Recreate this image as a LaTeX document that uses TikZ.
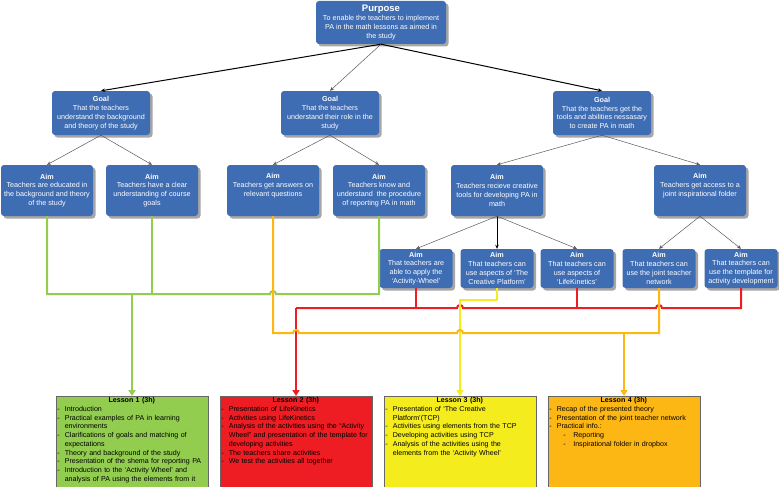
\documentclass[tikz,border=0pt]{standalone}
\usepackage{fontspec}
\setmainfont{Liberation Sans}
\usetikzlibrary{arrows.meta,shadows}

\definecolor{boxblue}{HTML}{3F6DB3}
\definecolor{lgreen}{HTML}{92CD50}
\definecolor{lred}{HTML}{EE1D23}
\definecolor{lyellow}{HTML}{F4EC1C}
\definecolor{lorange}{HTML}{FDB714}

\newcommand{\boxfont}{\fontsize{7.2}{8.8}\selectfont}
\newcommand{\lessonfont}{\fontsize{7.1}{8.7}\selectfont}
\newcommand{\lpt}[1]{\par\hangindent=7.5pt\hangafter=1\noindent\makebox[7.5pt][l]{-}#1\par}
\newcommand{\lptt}[1]{\par\hangindent=24pt\hangafter=1\noindent\hspace*{14pt}\makebox[10pt][l]{-}#1\par}

\begin{document}
\begin{tikzpicture}[x=1pt,y=-1pt,
  bluebox/.style={rectangle,rounded corners=3pt,fill=boxblue,text=white,align=center,inner sep=1pt,font=\boxfont,
    drop shadow={shadow xshift=2.5pt,shadow yshift=-2.5pt,fill=black!35,opacity=1}},
  purposebox/.style={bluebox,minimum width=130pt,minimum height=43pt},
  goalbox/.style={bluebox,minimum width=98pt,minimum height=44pt},
  aimbox/.style={bluebox,minimum width=92pt,minimum height=51pt},
  subaim/.style={bluebox,minimum width=73pt,minimum height=39pt},
  lessonbox/.style={rectangle,draw=black!60,line width=0.8pt,minimum width=152pt,minimum height=100pt,anchor=north},
  lessontext/.style={anchor=north west,inner sep=1.5pt,text width=149pt,font=\lessonfont},
  tree/.style={draw=black!65,line width=0.5pt,-{Stealth[length=4pt,width=3.5pt]}},
  treebold/.style={tree,draw=black,line width=1pt},
  bus/.style={line width=2pt},
  bustip/.style={-{Triangle[length=6pt,width=7pt]}}]
\useasboundingbox (0,0) rectangle (779,487);
\clip (0,0) rectangle (779,487);

% purpose and goals
\node[purposebox] (purpose) at (381,22.5) {{\fontsize{9.5}{11}\selectfont\bfseries Purpose}\\To enable the teachers to implement\\PA in the math lessons as aimed in\\the study};
\node[goalbox] (g1) at (101,113) {\textbf{Goal}\\That the teachers\\understand the background\\and theory of the study};
\node[goalbox] (g2) at (330,113) {\textbf{Goal}\\That the teachers\\understand their role in the\\study};
\node[goalbox] (g3) at (602,113) {\textbf{Goal}\\That the teachers get the\\tools and abilities nessasary\\to create PA in math};

% aims
\node[aimbox] (a1) at (47,190.5) {\textbf{Aim}\\Teachers are educated in\\the background and theory\\of the study};
\node[aimbox] (a2) at (152,190.5) {\textbf{Aim}\\Teachers have a clear\\understanding of course\\goals};
\node[aimbox] (a3) at (273,190.5) {\textbf{Aim}\\Teachers get answers on\\relevant questions\\\strut};
\node[aimbox] (a4) at (379,190.5) {\textbf{Aim}\\Teachers know and\\understand\ \ the procedure\\of reporting PA in math};
\node[aimbox] (a5) at (497,190.5) {\textbf{Aim}\\Teachers recieve creative\\tools for developing PA in\\math};
\node[aimbox] (a6) at (700,190.5) {\textbf{Aim}\\Teachers get access to a\\joint inspirational folder\\\strut};

\node[subaim] (la1) at (416,268.5) {\textbf{Aim}\\That teachers are\\able to apply the\\`Activity-Wheel'};
\node[subaim] (la2) at (497,268.5) {\textbf{Aim}\\That teachers can\\use aspects of `The\\Creative Platform'};
\node[subaim] (la3) at (577,268.5) {\textbf{Aim}\\That teachers can\\use aspects of\\`LifeKinetics'};
\node[subaim] (la4) at (659,268.5) {\textbf{Aim}\\That teachers can\\use the joint teacher\\network};
\node[subaim] (la5) at (741,268.5) {\textbf{Aim}\\That teachers can\\use the template for\\activity development};

% lessons
\node[lessonbox,fill=lgreen] (l1) at (132,396) {};
\node[lessonbox,fill=lred] (l2) at (296,396) {};
\node[lessonbox,fill=lyellow] (l3) at (460,396) {};
\node[lessonbox,fill=lorange] (l4) at (624,396) {};

\node[lessontext] (t1) at (l1.north west) {\raggedright{\centering\bfseries Lesson 1 (3h)\par}
\lpt{Introduction}
\lpt{Practical examples of PA in learning\newline environments}
\lpt{Clarifications of goals and matching of\newline expectations}
\lpt{Theory and background of the study}
\lpt{Presentation of the shema for reporting PA}
\lpt{Introduction to the `Activity Wheel' and\newline analysis of PA using the elements from it}};
\node[lessontext] (t2) at (l2.north west) {\raggedright{\centering\bfseries Lesson 2 (3h)\par}
\lpt{Presentation of LifeKinetics}
\lpt{Activities using LifeKinetics}
\lpt{Analysis of the activities using the ``Activity\newline Wheel'' and presentation of the template for\newline developing activities}
\lpt{The teachers share activities}
\lpt{We test the activities all together}};
\node[lessontext] (t3) at (l3.north west) {\raggedright{\centering\bfseries Lesson 3 (3h)\par}
\lpt{Presentation of `The Creative\newline Platform'(TCP)}
\lpt{Activities using elements from the TCP}
\lpt{Developing activities using TCP}
\lpt{Analysis of the activities using the\newline elements from the `Activity Wheel'}};
\node[lessontext] (t4) at (l4.north west) {\raggedright{\centering\bfseries Lesson 4 (3h)\par}
\lpt{Recap of the presented theory}
\lpt{Presentation of the joint teacher network}
\lpt{Practical info.:}
\lptt{Reporting}
\lptt{Inspirational folder in dropbox}};

% tree arrows
\draw[treebold] (purpose.south) -- (g1.north);
\draw[tree] (purpose.south) -- (g2.north);
\draw[treebold] (purpose.south) -- (g3.north);
\draw[tree] (g1.south) -- (a1.north);
\draw[tree] (g1.south) -- (a2.north);
\draw[tree] (g2.south) -- (a3.north);
\draw[tree] (g2.south) -- (a4.north);
\draw[tree] (g3.south) -- (a5.north);
\draw[tree] (g3.south) -- (a6.north);
\draw[tree] (a5.south) -- (la1.north);
\draw[treebold] (a5.south) -- (la2.north);
\draw[tree] (a5.south) -- (la3.north);
\draw[tree] (a6.south) -- (la4.north);
\draw[tree] (a6.south) -- (la5.north);

% coloured buses to the lessons
\coordinate (gbus) at (132,294);
\coordinate (rbus) at (296,308);
\coordinate (obus) at (624,333);
\coordinate (ybend) at (460,300);

\draw[bus,lgreen] (a1.south) |- (270,294) arc[start angle=180,end angle=0,radius=3pt] -- (a4.south |- gbus) -- (a4.south);
\draw[bus,lgreen] (a2.south) -- (a2.south |- gbus);
\draw[bus,lgreen,bustip] (gbus) -- (l1.north);

\draw[bus,lred] (rbus) -- (457,308) arc[start angle=180,end angle=0,radius=3pt] -- (656,308) arc[start angle=180,end angle=0,radius=3pt] -- (la5.south |- rbus) -- (la5.south);
\draw[bus,lred] (la1.south) -- (la1.south |- rbus);
\draw[bus,lred] (la3.south) -- (la3.south |- rbus);
\draw[bus,lred,bustip] (rbus) -- (l2.north);

\draw[bus,lyellow,bustip] (la2.south) |- (ybend) -- (l3.north);

\draw[bus,lorange] (a3.south) |- (293,333) arc[start angle=180,end angle=0,radius=3pt] -- (457,333) arc[start angle=180,end angle=0,radius=3pt] -- (la4.south |- obus) -- (la4.south);
\draw[bus,lorange,bustip] (obus) -- (l4.north);
\end{tikzpicture}
\end{document}
